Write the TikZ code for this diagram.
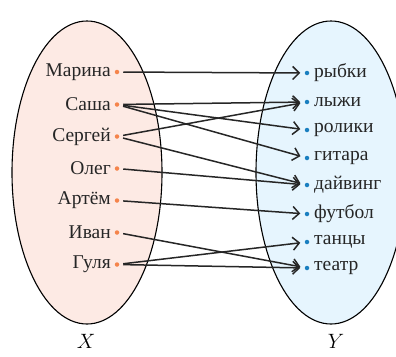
\documentclass[tikz,border=0pt]{standalone}
\usepackage{fontspec}
\setmainfont{Liberation Serif}
\usetikzlibrary{arrows.meta}
\definecolor{lfill}{HTML}{FDEAE4}
\definecolor{rfill}{HTML}{E6F5FE}
\definecolor{ldot}{HTML}{F5844B}
\definecolor{rdot}{HTML}{1A7FC0}
\tikzset{
  setel/.style={draw=black, line width=1.1pt},
  ldotn/.style={circle, fill=ldot, inner sep=0pt, minimum size=4.5pt, outer sep=4pt},
  rdotn/.style={circle, fill=rdot, inner sep=0pt, minimum size=4.5pt, outer sep=4.5pt},
  lname/.style={anchor=east, inner sep=0pt, font=\fontsize{19.5}{22}\selectfont, text=black!85},
  rname/.style={anchor=west, inner sep=0pt, font=\fontsize{19.5}{22}\selectfont, text=black!85},
  setlabel/.style={font=\fontsize{22}{24}\selectfont, inner sep=0pt},
  maparrow/.style={draw=black!85, line width=1.5pt, -{Straight Barb[length=6.5pt,width=13pt,line width=1.5pt]}}
}
\begin{document}
\begin{tikzpicture}[x=1pt,y=-1pt]
\useasboundingbox (0,0) rectangle (396,356);
\clip (0,0) rectangle (396,356);
\draw[setel, fill=lfill] (87,172.5) ellipse [x radius=75pt, y radius=151.5pt];
\draw[setel, fill=rfill] (331,172.5) ellipse [x radius=75pt, y radius=151.5pt];
% left set
\foreach \n/\t/\y in {l1/Марина/72, l2/Саша/104.5, l3/Сергей/136.5, l4/Олег/168.5, l5/Артём/200.5, l6/Иван/232.5, l7/Гуля/264.5}{
  \node[ldotn] (\n) at (117,\y) {};
  \node[lname] (\n t) at (111,\y) {\t};
}
% right set
\foreach \n/\t/\y in {r1/рыбки/73, r2/лыжи/102, r3/ролики/130, r4/гитара/158, r5/дайвинг/185, r6/футбол/214, r7/танцы/242, r8/театр/268}{
  \node[rdotn] (\n) at (307,\y) {};
  \node[rname] (\n t) at (314,\y) {\t};
}
\node[setlabel] (X) at (86,341) {$X$};
\node[setlabel] (Y) at (336,341) {$Y$};
% mapping
\foreach \a/\b in {l1/r1, l2/r2, l2/r3, l2/r4, l3/r2, l3/r5, l4/r5, l5/r6, l6/r8, l7/r7, l7/r8}{
  \draw[maparrow] (\a) -- (\b);
}
\end{tikzpicture}
\end{document}
